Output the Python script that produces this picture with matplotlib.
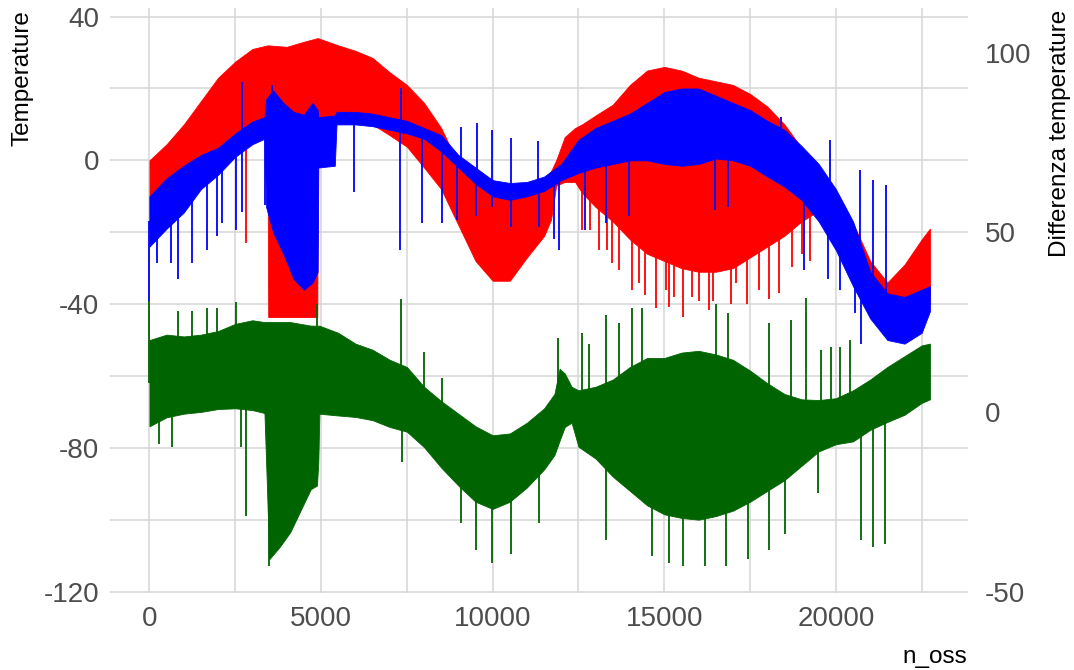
import numpy as np
import matplotlib
matplotlib.use("Agg")
import matplotlib.pyplot as plt

plt.rcParams["axes.unicode_minus"] = False

# Differenza temperature is shown on the right scale: diff = Temperature + OFFSET
OFFSET = 70

# ---- red series: body envelope (observation index, upper, lower) ----
red_n = [0, 500, 1000, 1500, 2000, 2500, 3000, 3440, 3460, 4000, 4500, 4890, 4910,
         5500, 6000, 6500, 7000, 7500, 8000, 8500, 9000, 9500, 10000, 10500, 11000,
         11500, 11700, 11850, 12100, 12400, 12600, 13000, 13500, 14000, 14500, 15000,
         15500, 16000, 16500, 17000, 17500, 18000, 18500, 19000, 19500, 20000, 20500,
         21000, 21500, 22000, 22500, 22740]
red_hi = [0, 4.5, 10, 16.5, 23, 27.5, 31, 32, 32, 31.6, 33, 34, 34,
          32, 30.5, 28.5, 24.5, 21, 16, 9, -1, -5, -9, -10, -8,
          -5, -3, 0, 6.5, 9, 10, 12.5, 15.5, 21, 25, 26,
          25, 23, 22, 21, 18.5, 15, 10, 3.5, -2, -9.5, -17.5,
          -28, -34, -29, -22, -19]
red_lo = [-20, -15, -10, -5, -1, 3, 6, 7, -43.6, -43.6, -43.6, -43.6, 9,
          11, 11, 10, 7, 3.8, -2, -8, -18, -28, -33.5, -33.5, -27,
          -21, -16.5, -7, -6, -6, -9, -13, -17, -22, -26, -28,
          -30, -31, -31, -30, -27, -24, -21, -17, -14, -20, -30,
          -40, -45, -45, -42, -40]
# isolated excursions of the red series (observation index, extreme value)
red_spike_n = [2820, 12600, 12850, 13090, 13330, 13480, 13670, 14060, 14250, 14450,
               14750, 15040, 15130, 15280, 15560, 15800, 16000, 16290, 16430, 16930,
               17100, 17400, 17750, 18040, 18330, 18710, 19000, 19260]
red_spike_v = [-23, -19.4, -19.4, -25, -25, -28.6, -30.5, -36, -34, -37.6,
               -41, -36, -40.8, -38, -43.6, -38, -39, -41.7, -39, -40,
               -34, -40, -36, -38.6, -37, -29.6, -26, -28]

# ---- blue series ----
blue_n = [0, 500, 1000, 1500, 2000, 2500, 3000, 3350, 3400, 3600, 3900, 4200, 4500,
          4750, 4900, 4920, 5400, 5450, 6000, 6500, 7000, 7500, 8000, 8500, 9000,
          9500, 10000, 10500, 11000, 11500, 12000, 12500, 13000, 13500, 14000, 14500,
          15000, 15500, 16000, 16500, 17000, 17500, 18000, 18500, 19000, 19500, 20000,
          20500, 21000, 21500, 22000, 22500, 22740]
blue_hi = [-10, -5, -1.5, 1.5, 3.5, 7.5, 10.8, 12, 17, 19.5, 16, 13.5, 12.7,
           16, 14, 12, 12.5, 13.5, 13.5, 13, 12, 11, 9, 7, 1.5,
           -2, -5.5, -6.3, -6, -4.5, -1, 5.7, 9, 11, 13, 16,
           19, 20, 20, 18, 16, 14, 11, 8.5, 4, -1, -8,
           -17, -31, -37, -38, -36, -35]
blue_lo = [-24, -19, -14.5, -8, -4, 1, 4.5, 6, -13, -20, -26, -33, -36,
           -34, -31, -2, -1.5, 10, 10, 9.5, 8.5, 7.5, 6, 2.5, -2,
           -6.5, -10, -11, -10, -8.5, -5.5, -3.5, -2, -1, 0, 0,
           -1, -1.5, -1, 0.5, 0, -1.5, -4.5, -7.3, -11, -17, -25,
           -35, -44, -50, -51, -48, -42]
blue_spike_n = [0, 230, 640, 845, 1250, 1690, 1980, 2100, 2530, 2700, 3370, 5960,
                7300, 7940, 8520, 8960, 9510, 9980, 10530, 11340, 11780, 11930, 12690,
                13300, 13960, 16490, 16870, 19080, 19780, 20130, 20560, 20740,
                2700, 3580, 7330, 9080, 9540, 9980, 10530, 11310, 18400, 19840,
                20710, 21090, 21470]
blue_spike_v = [-39, -28.6, -28.6, -33, -28.6, -25, -21, -17.5, -19.4, -14.4, -12.5, -8.8,
                -25, -17.5, -17.5, -16.5, -15.6, -13, -18.5, -18.5, -22, -25, -19.4,
                -17.5, -15.6, -13.8, -13, -30.5, -33, -36, -42.5, -51,
                21.8, 21, 20, 9.4, 10.4, 8.5, 6.3, 5.3, 12, 5.7,
                -2.6, -5.4, -6.8]

# ---- green series (Differenza temperature, right scale) ----
green_n = [0, 500, 1000, 1500, 2000, 2500, 3000, 3350, 3420, 3490, 3800, 4100, 4400,
           4700, 4880, 4920, 4950, 5500, 6000, 6500, 7000, 7500, 8000, 8500, 9000,
           9500, 10000, 10500, 11000, 11500, 11800, 11950, 12100, 12300, 12500, 13000,
           13500, 14000, 14500, 15000, 15500, 16000, 16500, 17000, 17500, 18000, 18500,
           19000, 19500, 20000, 20500, 21000, 21500, 22000, 22500, 22740]
green_hi = [20, 21.5, 21, 21.5, 22.5, 24.5, 25.5, 25, 25, 25, 25, 25, 24.5,
            24, 24, 24, 24, 22, 19, 17.3, 14.5, 12.5, 7, 3, -0.5,
            -4, -6.5, -6, -3, 1, 5, 12, 10.7, 7, 6, 7,
            9, 12.5, 15, 15, 16.5, 17, 16, 14.5, 11.5, 8, 5,
            3.5, 3.3, 3.8, 6, 9, 12.5, 15.5, 18.5, 19]
green_lo = [-4, -1.5, -0.5, 0, 0.8, 1, 0.5, -0.3, -20, -41, -37.5, -33.5, -27.5,
            -21.5, -20.5, -14, -0.5, -1, -1.4, -2.3, -4.2, -5.5, -9.8, -15.5, -20.5,
            -25, -27, -25, -21, -16, -12, -8, -4.2, -3, -9.7, -13,
            -18, -22, -26, -28.5, -29.5, -30, -29, -27.5, -25, -22, -19,
            -15, -11, -9, -8.2, -5, -2.8, -0.8, 2.5, 3.5]
green_spike_n = [0, 845, 1250, 1690, 1980, 2530, 4890, 7330, 8000, 8520, 11900, 12600,
                 12800, 13300, 13670, 14050, 14340, 16520, 16870, 18040, 18700, 19140,
                 19580, 19870, 20130, 20420,
                 290, 670, 2680, 2820, 3490, 7360, 9080, 9510, 9980, 10530, 11340,
                 13300, 14630, 15130, 15560, 16200, 16790, 17450, 18040, 18530, 19490,
                 20740, 21090, 21440]
green_spike_v = [31, 28, 28, 29, 29, 30.6, 30, 31.5, 16.7, 9.4, 20.5, 22,
                 19, 27, 24.7, 29, 29, 30, 27.5, 24.7, 25.6, 31.7,
                 17.3, 18, 18, 20,
                 -9, -9.7, -9.7, -29, -43, -14, -31, -38.5, -42, -39.5, -31,
                 -35.6, -40, -42, -43, -43, -43, -41, -38.5, -34, -22.6,
                 -35.6, -37.6, -36.7]

x_ticks = [0, 5000, 10000, 15000, 20000]
y_ticks = [-120, -80, -40, 0, 40]
y2_ticks = [-50, 0, 50, 100]

RED, BLUE, GREEN = "#FF0000", "#0000FF", "#006400"
TICK_COLOR = "#4D4D4D"
GRID_COLOR = "#D6D6D6"
FONT = "Liberation Sans"

fig = plt.figure(figsize=(10.74, 6.70), dpi=100)
ax = fig.add_axes([110 / 1074, 77 / 670, 858 / 1074, 585 / 670])


def draw_series(n, hi, lo, sn, sv, color, shift=0.0):
    n = np.asarray(n, float)
    hi = np.asarray(hi, float) - shift
    lo = np.asarray(lo, float) - shift
    ax.fill_between(n, lo, hi, color=color, linewidth=0.6, edgecolor=color, zorder=2)
    sn = np.asarray(sn, float)
    sv = np.asarray(sv, float) - shift
    base = np.interp(sn, n, (hi + lo) / 2)
    ax.vlines(sn, base, sv, colors=color, linewidth=1.3, zorder=2)


draw_series(red_n, red_hi, red_lo, red_spike_n, red_spike_v, RED)
draw_series(blue_n, blue_hi, blue_lo, blue_spike_n, blue_spike_v, BLUE)
draw_series(green_n, green_hi, green_lo, green_spike_n, green_spike_v, GREEN, shift=OFFSET)

ax.set_xlim(-1150, 23850)
ax.set_ylim(-120.4, 42.4)

ax.set_xticks(x_ticks)
ax.set_xticks(np.arange(2500, 23000, 5000), minor=True)
ax.set_yticks(y_ticks)
ax.set_yticks([-100, -60, -20, 20], minor=True)
ax.grid(True, which="both", color=GRID_COLOR, linewidth=1.1, zorder=0)
ax.set_axisbelow(True)
for s in ax.spines.values():
    s.set_visible(False)
ax.tick_params(which="both", length=0)
ax.tick_params(axis="x", pad=9, labelsize=20, labelcolor=TICK_COLOR)
ax.tick_params(axis="y", pad=8, labelsize=20, labelcolor=TICK_COLOR)
for lab in ax.get_xticklabels() + ax.get_yticklabels():
    lab.set_fontfamily(FONT)

sec = ax.secondary_yaxis("right", functions=(lambda t: t + OFFSET, lambda d: d - OFFSET))
sec.set_yticks(y2_ticks)
sec.tick_params(length=0, pad=12, labelsize=20, labelcolor=TICK_COLOR)
for lab in sec.get_yticklabels():
    lab.set_fontfamily(FONT)
for s in sec.spines.values():
    s.set_visible(False)

fig.text(23 / 1074, 1 - 10 / 670, "Temperature", rotation=90, ha="center", va="top",
         fontsize=17.5, family=FONT, color="black")
fig.text(1060 / 1074, 1 - 10 / 670, "Differenza temperature", rotation=90, ha="center",
         va="top", fontsize=17.5, family=FONT, color="black")
fig.text(967 / 1074, 1 - 657 / 670, "n_oss", ha="right", va="center",
         fontsize=17.5, family=FONT, color="black")

fig.savefig("out.png", dpi=100)
